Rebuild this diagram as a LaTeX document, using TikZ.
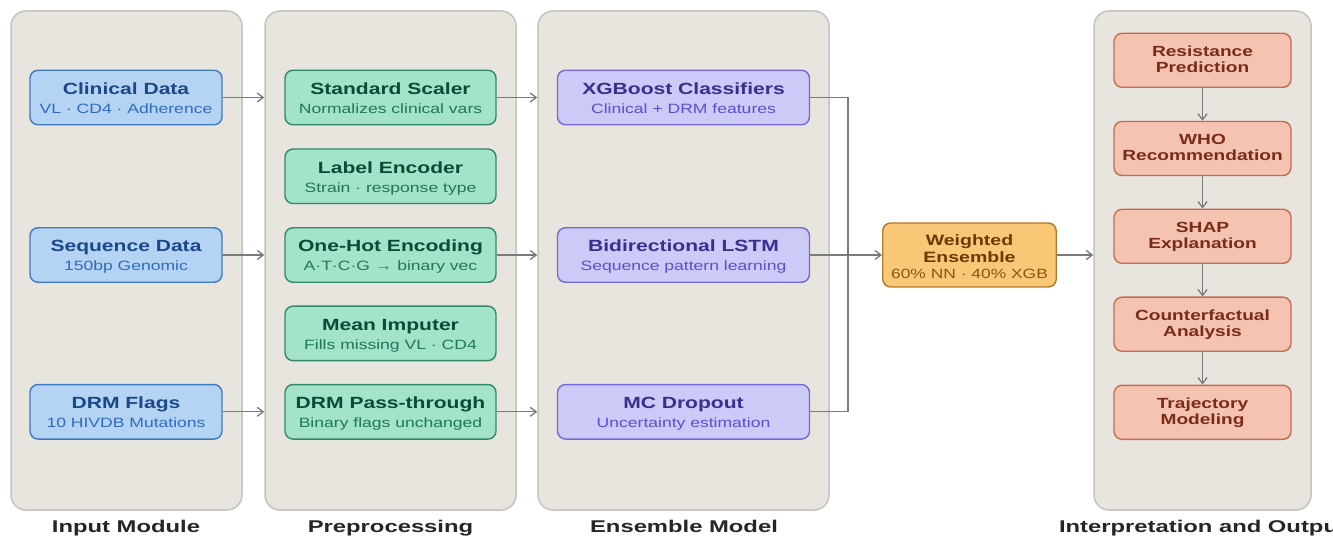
\documentclass[tikz,border=0pt]{standalone}
\usepackage{fontspec}
\setmainfont{Liberation Sans}[FakeStretch=1.3]
\newfontfamily\labfont{Liberation Sans}[FakeStretch=1.4]
\usetikzlibrary{arrows.meta}
\definecolor{panelf}{HTML}{E8E5DF}
\definecolor{panelb}{HTML}{C6C3BC}
\definecolor{bluef}{HTML}{B5D3F3}
\definecolor{blueb}{HTML}{3D79C4}
\definecolor{bluet}{HTML}{1B4888}
\definecolor{blues}{HTML}{2F6CC0}
\definecolor{greenf}{HTML}{A2E3CA}
\definecolor{greenb}{HTML}{2F8A64}
\definecolor{greent}{HTML}{0C4A36}
\definecolor{greens}{HTML}{1E7858}
\definecolor{purplef}{HTML}{CCCAF6}
\definecolor{purpleb}{HTML}{7668D8}
\definecolor{purplet}{HTML}{3A2E8E}
\definecolor{purples}{HTML}{5A4FCF}
\definecolor{orangef}{HTML}{F9C876}
\definecolor{orangeb}{HTML}{B5782C}
\definecolor{oranget}{HTML}{6A3A08}
\definecolor{oranges}{HTML}{8A5618}
\definecolor{pinkf}{HTML}{F5C3B1}
\definecolor{pinkb}{HTML}{C66A50}
\definecolor{pinkt}{HTML}{7A2C16}
\definecolor{arrc}{HTML}{7A7A7A}
\newcommand\tbox[7]{%
  \node[#5, minimum width=#4] (#1) at (#2,#3) {};
  \node[#5t, anchor=base] (#1-t) at (#2,#3-3.2) {#6};
  \node[#5s, anchor=base] (#1-s) at (#2,#3+15.8) {#7};
}
\newcommand\pbox[4]{%
  \node[pinkbox] (#1) at (1202.5,#2) {};
  \node[pinkboxt, anchor=base] (#1-a) at (1202.5,#2-4.2) {#3};
  \node[pinkboxt, anchor=base] (#1-b) at (1202.5,#2+11.8) {#4};
}
\begin{document}
\begin{tikzpicture}[x=1pt,y=-1pt,
  panel/.style={draw=panelb, fill=panelf, line width=1.5pt, rounded corners=15pt, inner sep=0pt},
  basebox/.style={line width=1.4pt, rounded corners=8pt, minimum height=54.5, inner sep=0pt},
  bluebox/.style={basebox, draw=blueb, fill=bluef},
  blueboxt/.style={inner sep=0pt, text=bluet, font=\fontsize{16.2}{19}\selectfont\bfseries},
  blueboxs/.style={inner sep=0pt, text=blues, font=\fontsize{13.5}{16}\selectfont},
  greenbox/.style={basebox, draw=greenb, fill=greenf},
  greenboxt/.style={inner sep=0pt, text=greent, font=\fontsize{16.2}{19}\selectfont\bfseries},
  greenboxs/.style={inner sep=0pt, text=greens, font=\fontsize{13.5}{16}\selectfont},
  purplebox/.style={basebox, draw=purpleb, fill=purplef},
  purpleboxt/.style={inner sep=0pt, text=purplet, font=\fontsize{16.2}{19}\selectfont\bfseries},
  purpleboxs/.style={inner sep=0pt, text=purples, font=\fontsize{13.5}{16}\selectfont},
  pinkbox/.style={basebox, draw=pinkb, fill=pinkf, minimum width=177, minimum height=54},
  pinkboxt/.style={inner sep=0pt, text=pinkt, font=\fontsize{14.7}{16}\selectfont\bfseries},
  orangebox/.style={line width=1.4pt, rounded corners=8pt, draw=orangeb, fill=orangef, minimum width=173.5, minimum height=64, inner sep=0pt},
  orangeboxt/.style={inner sep=0pt, text=oranget, font=\fontsize{15}{17}\selectfont\bfseries},
  orangeboxs/.style={inner sep=0pt, text=oranges, font=\fontsize{13.4}{16}\selectfont},
  plabel/.style={inner sep=0pt, anchor=base, text=black!85, font=\labfont\fontsize{17}{20}\selectfont\bfseries},
  conn/.style={draw=arrc, line width=1.3pt},
  arr/.style={conn, -{Straight Barb[length=6pt,width=9pt]}}
]
\useasboundingbox (0,0) rectangle (1333,537);
\fill[white] (0,0) rectangle (1333,537);

% panels
\node[panel, minimum width=231, minimum height=499] (p1) at (126.5,260.5) {};
\node[panel, minimum width=251, minimum height=499] (p2) at (390.5,260.5) {};
\node[panel, minimum width=291, minimum height=499] (p3) at (683.5,260.5) {};
\node[panel, minimum width=217, minimum height=499] (p4) at (1202.5,260.5) {};

\node[plabel] (l1) at (126,532.7) {Input Module};
\node[plabel] (l2) at (390.5,532.7) {Preprocessing};
\node[plabel] (l3) at (684,532.7) {Ensemble Model};
\node[plabel] (l4) at (1202.5,532.7) {Interpretation and Output};

% input
\tbox{clin}{126}{97.5}{192}{bluebox}{Clinical Data}{VL · CD4 · Adherence}
\tbox{seq}{126}{255}{192}{bluebox}{Sequence Data}{150bp Genomic}
\tbox{drm}{126}{411.8}{192}{bluebox}{DRM Flags}{10 HIVDB Mutations}

% preprocessing
\tbox{scal}{390.5}{97.5}{211}{greenbox}{Standard Scaler}{Normalizes clinical vars}
\tbox{lenc}{390.5}{176.3}{211}{greenbox}{Label Encoder}{Strain · response type}
\tbox{ohe}{390.5}{255}{211}{greenbox}{One-Hot Encoding}{A·T·C·G → binary vec}
\tbox{imp}{390.5}{333.4}{211}{greenbox}{Mean Imputer}{Fills missing VL · CD4}
\tbox{pass}{390.5}{411.8}{211}{greenbox}{DRM Pass-through}{Binary flags unchanged}

% ensemble
\tbox{xgb}{683.5}{97.5}{252}{purplebox}{XGBoost Classifiers}{Clinical + DRM features}
\tbox{lstm}{683.5}{255}{252}{purplebox}{Bidirectional LSTM}{Sequence pattern learning}
\tbox{mc}{683.5}{411.8}{252}{purplebox}{MC Dropout}{Uncertainty estimation}

% weighted ensemble
\node[orangebox] (we) at (969.5,255) {};
\node[orangeboxt, anchor=base] (we-a) at (969.5,246) {Weighted};
\node[orangeboxt, anchor=base] (we-b) at (969.5,262.5) {Ensemble};
\node[orangeboxs, anchor=base] (we-c) at (969.5,279) {60\% NN · 40\% XGB};

% interpretation
\pbox{r1}{60.3}{Resistance}{Prediction}
\pbox{r2}{148.5}{WHO}{Recommendation}
\pbox{r3}{236.3}{SHAP}{Explanation}
\pbox{r4}{324.2}{Counterfactual}{Analysis}
\pbox{r5}{412.3}{Trajectory}{Modeling}

% connectors
\draw[arr] (clin.east) -- (clin.east -| p2.west);
\draw[arr] (seq.east) -- (seq.east -| p2.west);
\draw[arr] (drm.east) -- (drm.east -| p2.west);
\draw[arr] (scal.east) -- (scal.east -| p3.west);
\draw[arr] (ohe.east) -- (ohe.east -| p3.west);
\draw[arr] (pass.east) -- (pass.east -| p3.west);

\coordinate (j) at (848,255);
\draw[conn] (xgb.east) -| (j);
\draw[conn] (mc.east) -| (j);
\draw[arr] (lstm.east) -- (we.west);
\draw[arr] (we.east) -- (we.east -| p4.west);

\draw[arr] (r1.south) -- (r2.north);
\draw[arr] (r2.south) -- (r3.north);
\draw[arr] (r3.south) -- (r4.north);
\draw[arr] (r4.south) -- (r5.north);
\end{tikzpicture}
\end{document}
